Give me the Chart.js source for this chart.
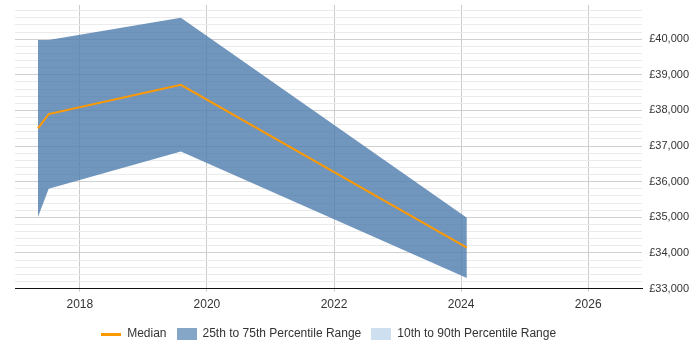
<!DOCTYPE html>
<html>
<head>
<meta charset="utf-8">
<script src="https://cdn.jsdelivr.net/npm/chart.js@4/dist/chart.umd.min.js"></script>
<style>
  body { margin: 0; background: #fff; }
  #wrap { width: 700px; height: 350px; }
</style>
</head>
<body>
<div id="wrap"><canvas id="chart"></canvas></div>
<script>
// values
const years = [2017.34, 2017.51, 2019.59, 2024.09]
const median = [37500, 37900, 38720, 34150]
const pct75 = [39980, 39980, 40600, 34990]
const pct25 = [35000, 35800, 36850, 33300]
const yearTicks = [2018, 2020, 2022, 2024, 2026]

const pts = (vals) => years.map((x, i) => ({ x: x, y: vals[i] }))

// little canvases used as legend swatches
function swatch(w, h, color) {
  const c = document.createElement('canvas')
  c.width = w
  c.height = h
  const g = c.getContext('2d')
  g.fillStyle = color
  g.fillRect(0, 0, w, h)
  return c
}
const medianSwatch = swatch(20, 3, '#ff9900')
const iqrSwatch = swatch(20, 12, '#86a6c8')
const widerSwatch = swatch(20, 12, '#cedff0')

Chart.defaults.font.family = '"Liberation Sans", Arial, sans-serif'
Chart.defaults.font.size = 12
Chart.defaults.color = '#333'

const yGrid = []
for (let v = 33000; v <= 40800; v += 200) yGrid.push(v)

new Chart(document.getElementById('chart'), {
  type: 'line',
  data: {
    datasets: [
      {
        label: 'Median',
        data: pts(median),
        borderColor: '#ff9900',
        borderWidth: 2,
        pointRadius: 0,
        fill: false,
        tension: 0,
        pointStyle: medianSwatch,
        order: 0
      },
      {
        label: '25th to 75th Percentile Range',
        data: pts(pct75),
        borderWidth: 0,
        borderColor: 'rgba(0,0,0,0)',
        backgroundColor: 'rgba(76,124,174,0.8)',
        pointRadius: 0,
        fill: '+1',
        tension: 0,
        pointStyle: iqrSwatch,
        order: 1
      },
      {
        label: 'lower',
        data: pts(pct25),
        borderWidth: 0,
        borderColor: 'rgba(0,0,0,0)',
        pointRadius: 0,
        fill: false,
        tension: 0,
        order: 2
      },
      {
        label: '10th to 90th Percentile Range',
        data: [],
        backgroundColor: '#cedff0',
        pointStyle: widerSwatch,
        order: 3
      }
    ]
  },
  options: {
    responsive: true,
    maintainAspectRatio: false,
    animation: false,
    layout: { padding: { left: 15, right: 4, top: 5, bottom: 0 } },
    plugins: {
      legend: {
        position: 'bottom',
        fullSize: false,
        labels: {
          usePointStyle: true,
          pointStyleWidth: 20,
          boxHeight: 12,
          padding: 10,
          color: '#333',
          filter: (item) => item.text !== 'lower'
        }
      },
      tooltip: { enabled: false }
    },
    scales: {
      x: {
        type: 'linear',
        min: 2016.98,
        max: 2026.85,
        afterBuildTicks: (scale) => { scale.ticks = yearTicks.map(v => ({ value: v })) },
        ticks: { callback: (v) => String(v), color: '#333', padding: 6 },
        grid: { color: '#cccccc', drawTicks: true, tickLength: 3 },
        border: { color: '#111', width: 1 }
      },
      y: {
        position: 'right',
        min: 33000,
        max: 40960,
        afterBuildTicks: (scale) => { scale.ticks = yGrid.map(v => ({ value: v })) },
        afterFit: (scale) => { scale.paddingTop = 0; scale.paddingBottom = 0 },
        ticks: {
          color: '#333',
          font: { size: 11 },
          padding: 7,
          autoSkip: false,
          callback: (v) => v % 1000 === 0 ? '£' + v.toLocaleString('en-GB') : ''
        },
        grid: {
          drawTicks: false,
          color: (ctx) => ctx.tick && ctx.tick.value % 1000 === 0 ? '#d0d0d0' : '#ebebeb'
        },
        border: { display: false }
      }
    }
  }
})
</script>
</body>
</html>
